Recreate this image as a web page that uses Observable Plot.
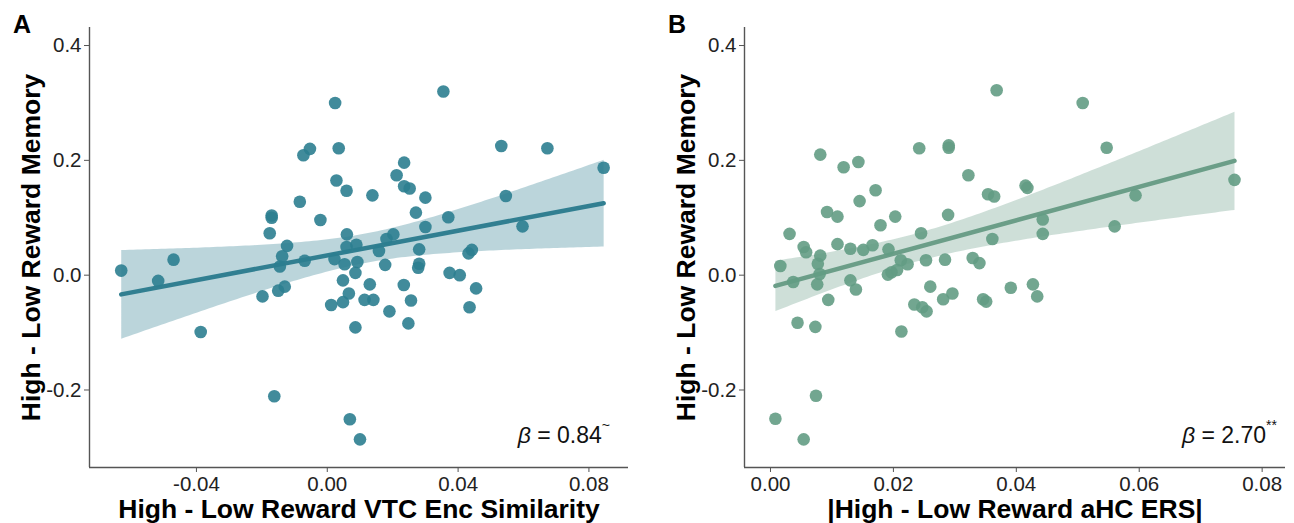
<!DOCTYPE html>
<html><head><meta charset="utf-8">
<script src="https://cdn.jsdelivr.net/npm/d3@7"></script>
<script src="https://cdn.jsdelivr.net/npm/@observablehq/plot@0.6"></script>
<style>
body{margin:0;background:#fff;}
#wrap{position:relative;width:1294px;height:523px;font-family:"Liberation Sans",Arial,sans-serif;overflow:hidden;}
.panel{position:absolute;top:0;}
.letter{position:absolute;font-weight:bold;font-size:25px;line-height:25px;color:#000;}
.beta{position:absolute;font-size:23px;line-height:23px;white-space:nowrap;color:#111;text-align:right;}
.beta sup{font-size:14px;line-height:0;vertical-align:top;position:relative;top:1px;}
</style></head><body><div id="wrap"></div>
<script>
// Panel A: High - Low Reward VTC Enc Similarity vs memory
const aX = [0.0024,-0.0053,-0.0073,0.0035,0.0028,0.0059,0.0138,-0.0084,-0.0170,-0.0170,
  -0.0021,-0.0176,0.0060,-0.0123,0.0059,0.0089,-0.0138,-0.0145,-0.0069,0.0022,
  0.0053,0.0092,0.0086,0.0048,-0.0630,-0.0470,-0.0517,0.0130,-0.0198,-0.0150,
  -0.0130,0.0066,0.0012,0.0048,0.0114,0.0086,-0.0387,-0.0162,0.0069,0.0100,
  0.0355,0.0532,0.0673,0.0845,0.0235,0.0212,0.0235,0.0252,0.0300,0.0546,
  0.0271,0.0370,0.0300,0.0597,0.0202,0.0181,0.0158,0.0281,0.0432,0.0442,
  0.0177,0.0281,0.0278,0.0374,0.0405,0.0234,0.0455,0.0141,0.0256,0.0190,
  0.0435,0.0248];
const aY = [0.300,0.220,0.209,0.221,0.165,0.147,0.139,0.128,0.104,0.100,
  0.096,0.073,0.071,0.051,0.049,0.053,0.033,0.015,0.025,0.028,
  0.019,0.023,0.004,-0.009,0.008,0.027,-0.010,-0.016,-0.037,-0.027,
  -0.020,-0.032,-0.052,-0.047,-0.043,-0.091,-0.099,-0.211,-0.251,-0.286,
  0.320,0.225,0.221,0.187,0.196,0.174,0.155,0.151,0.135,0.138,
  0.109,0.101,0.084,0.085,0.071,0.063,0.042,0.045,0.038,0.044,
  0.018,0.020,0.013,0.004,0.000,-0.017,-0.023,-0.043,-0.044,-0.063,
  -0.056,-0.084];
// Panel B: |High - Low Reward aHC ERS| vs memory
const bX = [0.0368,0.0081,0.0119,0.0143,0.0242,0.0290,0.0290,0.0322,0.0354,0.0364,
  0.0415,0.0418,0.0171,0.0145,0.0092,0.0109,0.0203,0.0289,0.0179,0.0031,
  0.0245,0.0054,0.0058,0.0109,0.0130,0.0151,0.0166,0.0192,0.0361,0.0081,
  0.0077,0.0080,0.0016,0.0212,0.0223,0.0253,0.0284,0.0329,0.0340,0.0191,
  0.0197,0.0206,0.0037,0.0076,0.0130,0.0139,0.0094,0.0260,0.0234,0.0247,
  0.0254,0.0281,0.0296,0.0346,0.0351,0.0391,0.0044,0.0073,0.0213,0.0074,
  0.0008,0.0054,0.0427,0.0434,0.0508,0.0547,0.0594,0.0443,0.0443,0.0560,
  0.0755];
const bY = [0.322,0.210,0.188,0.197,0.221,0.226,0.222,0.174,0.141,0.137,
  0.156,0.152,0.148,0.129,0.110,0.102,0.102,0.105,0.087,0.072,
  0.073,0.049,0.040,0.054,0.046,0.044,0.052,0.045,0.063,0.034,
  0.020,0.002,0.016,0.026,0.019,0.026,0.027,0.030,0.021,0.001,
  0.005,0.009,-0.012,-0.016,-0.009,-0.025,-0.043,-0.020,-0.051,-0.056,
  -0.063,-0.042,-0.032,-0.042,-0.046,-0.022,-0.083,-0.090,-0.098,-0.210,
  -0.250,-0.286,-0.016,-0.037,0.300,0.222,0.139,0.097,0.072,0.085,
  0.166];

const yTicks = [-0.2, 0.0, 0.2, 0.4];
const aXTicks = [-0.04, 0.00, 0.04, 0.08];
const bXTicks = [0.00, 0.02, 0.04, 0.06, 0.08];
const yLabel = "High - Low Reward Memory";
const aXLabel = "High - Low Reward VTC Enc Similarity";
const bXLabel = "|High - Low Reward aHC ERS|";
const panelLetters = ["A", "B"];
const betaValues = ["0.84", "2.70"];
const betaMarks = ["~", "**"];

const FONT = '"Liberation Sans", Arial, sans-serif';
const yDomain = [-0.335, 0.4314];

function panel({xs, ys, xDomain, xTicks, marginLeft, marginRight, xLabel, pointColor, lineColor}) {
  const data = xs.map((x, i) => ({x, y: ys[i]}));
  return Plot.plot({
    width: 647, height: 523,
    marginLeft, marginRight, marginTop: 27, marginBottom: 56,
    style: {fontFamily: FONT, fontSize: "20px", color: "#222", background: "transparent", overflow: "visible"},
    x: {domain: xDomain},
    y: {domain: yDomain},
    marks: [
      Plot.linearRegressionY(data, {x: "x", y: "y", stroke: lineColor, strokeWidth: 4.5, fill: lineColor, fillOpacity: 0.33, ci: 0.95}),
      Plot.dot(data, {x: "x", y: "y", r: 6.3, fill: pointColor, fillOpacity: 0.9, stroke: "none"}),
      Plot.ruleX([xDomain[0]], {stroke: "#555", strokeWidth: 1.4}),
      Plot.ruleY([yDomain[0]], {stroke: "#555", strokeWidth: 1.4}),
      Plot.axisX({ticks: xTicks, tickFormat: d => d.toFixed(2), tickSize: 5, tickPadding: 4, fontSize: 20.5, label: null, stroke: "#555", fill: "#222"}),
      Plot.axisY({ticks: yTicks, tickFormat: d => d.toFixed(1), tickSize: 5, tickPadding: 3, fontSize: 20.5, label: null, stroke: "#555", fill: "#222"}),
      Plot.text([xLabel], {text: d => d, frameAnchor: "bottom", textAnchor: "middle", dy: 50, lineAnchor: "bottom", fontWeight: "bold", fontSize: 26.5, fill: "#000"}),
      Plot.text([yLabel], {text: d => d, frameAnchor: "left", textAnchor: "middle", rotate: -90, dx: -50, lineAnchor: "bottom", fontWeight: "bold", fontSize: 26.5, fill: "#000"})
    ]
  });
}

const wrap = document.getElementById("wrap");
const pa = panel({xs: aX, ys: aY, xDomain: [-0.0727, 0.0921], xTicks: aXTicks, marginLeft: 89, marginRight: 19,
  xLabel: aXLabel, pointColor: "#2c7e90", lineColor: "#317f91"});
const pb = panel({xs: bX, ys: bY, xDomain: [-0.00423, 0.0838], xTicks: bXTicks, marginLeft: 97, marginRight: 9,
  xLabel: bXLabel, pointColor: "#639c84", lineColor: "#6b9e88"});
pa.classList.add("panel"); pa.style.left = "0px";
pb.classList.add("panel"); pb.style.left = "647px";
wrap.appendChild(pa); wrap.appendChild(pb);

const letterPos = [[13, 12], [668, 12]];
panelLetters.forEach((t, i) => {
  const d = document.createElement("div");
  d.className = "letter"; d.textContent = t;
  d.style.left = letterPos[i][0] + "px"; d.style.top = letterPos[i][1] + "px";
  wrap.appendChild(d);
});
const betaRight = [610, 1277];
betaValues.forEach((v, i) => {
  const d = document.createElement("div");
  d.className = "beta";
  d.innerHTML = '<i>\u03B2</i> = ' + v + '<sup>' + betaMarks[i] + '</sup>';
  d.style.right = (1294 - betaRight[i]) + "px"; d.style.top = "424px";
  wrap.appendChild(d);
});
</script></body></html>
